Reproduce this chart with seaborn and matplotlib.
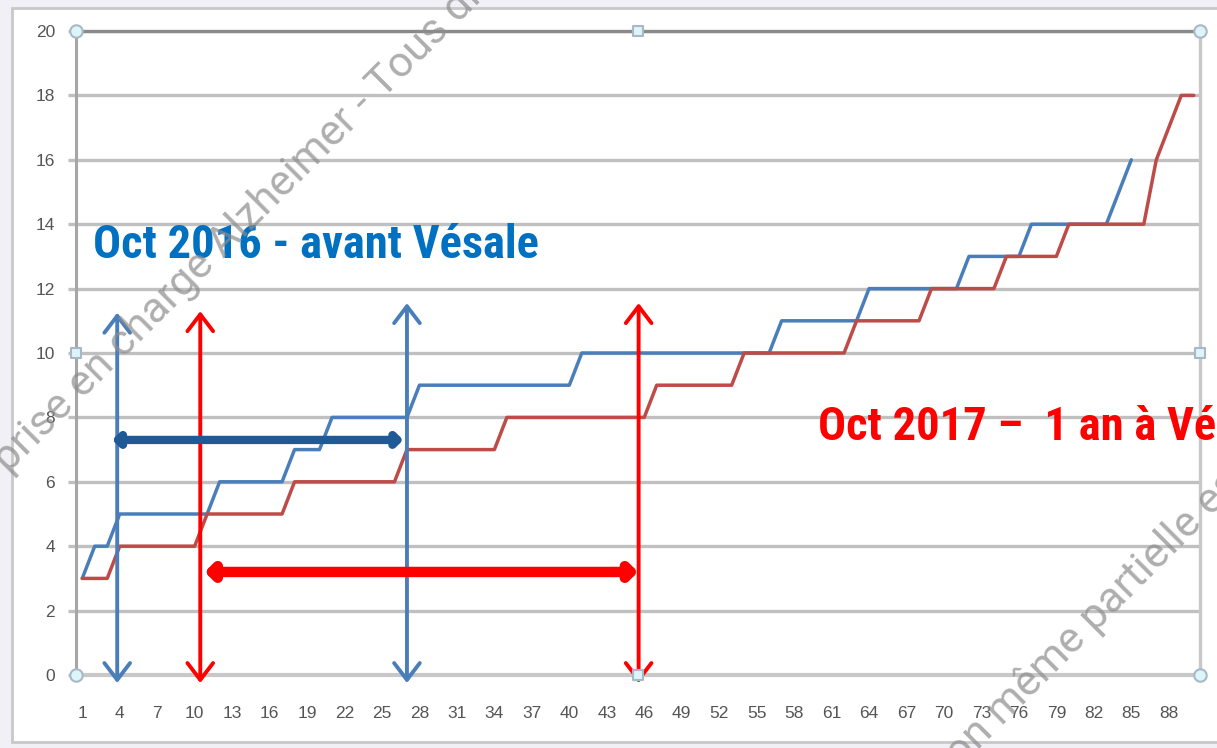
import matplotlib
matplotlib.use("Agg")
import matplotlib.pyplot as plt
from matplotlib.patches import FancyBboxPatch
import numpy as np
import pandas as pd
import seaborn as sns

# ---------------- data ----------------
blue_label = "Oct 2016"
red_label = "Oct 2017"
blue_values = [3, 4, 4, 5, 5, 5, 5, 5, 5, 5, 5, 6, 6, 6, 6, 6, 6, 7, 7, 7,
               8, 8, 8, 8, 8, 8, 8, 9, 9, 9, 9, 9, 9, 9, 9, 9, 9, 9, 9, 9,
               10, 10, 10, 10, 10, 10, 10, 10, 10, 10, 10, 10, 10, 10, 10, 10,
               11, 11, 11, 11, 11, 11, 11, 12, 12, 12, 12, 12, 12, 12, 12,
               13, 13, 13, 13, 13, 14, 14, 14, 14, 14, 14, 14, 15, 16]
red_values = [3, 3, 3, 4, 4, 4, 4, 4, 4, 4, 5, 5, 5, 5, 5, 5, 5,
              6, 6, 6, 6, 6, 6, 6, 6, 6, 7, 7, 7, 7, 7, 7, 7, 7,
              8, 8, 8, 8, 8, 8, 8, 8, 8, 8, 8, 8, 9, 9, 9, 9, 9, 9, 9,
              10, 10, 10, 10, 10, 10, 10, 10, 10, 11, 11, 11, 11, 11, 11,
              12, 12, 12, 12, 12, 12, 13, 13, 13, 13, 13,
              14, 14, 14, 14, 14, 14, 14, 16, 17, 18, 18]
x_tick_positions = [1, 4, 7, 10, 13, 16, 19, 22, 25, 28, 31, 34, 37, 40, 43, 46,
                    49, 52, 55, 58, 61, 64, 67, 70, 73, 76, 79, 82, 85, 88]
x_tick_labels = ["1", "4", "7", "10", "13", "16", "19", "22", "25", "28", "31",
                 "34", "37", "40", "43", "46", "49", "52", "55", "58", "61", "64",
                 "67", "70", "73", "76", "79", "82", "85", "88"]
y_ticks = [0, 2, 4, 6, 8, 10, 12, 14, 16, 18, 20]

df = pd.concat([
    pd.DataFrame({"cat": range(1, len(blue_values) + 1), "value": blue_values, "series": blue_label}),
    pd.DataFrame({"cat": range(1, len(red_values) + 1), "value": red_values, "series": red_label}),
])

sns.set_theme(style="white")
plt.rcParams["font.family"] = ["Liberation Sans", "DejaVu Sans"]

W, H = 1217, 748
fig = plt.figure(figsize=(W / 100, H / 100), dpi=100, facecolor="#F0F0F6")
fig.patches.append(FancyBboxPatch((12 / W, 6 / H), 1.2, 1 - 14 / H, transform=fig.transFigure,
                                  boxstyle="square,pad=0", fc="white", ec="#C8C8C8", lw=2, zorder=-5))

ax = fig.add_axes([76 / W, 1 - 675 / H, 1124 / W, 644 / H])
ax.set_facecolor("white")

sns.lineplot(data=df, x="cat", y="value", hue="series",
             palette={blue_label: "#4A7EBB", red_label: "#BE4B48"},
             linewidth=2.5, legend=False, ax=ax, zorder=3)

ax.set_xlim(0.5, 90.5)
ax.set_ylim(0, 20)
ax.set_xlabel("")
ax.set_ylabel("")
ax.set_yticks(y_ticks)
ax.set_yticklabels([str(v) for v in y_ticks])
ax.set_xticks(x_tick_positions)
ax.set_xticklabels(x_tick_labels)
ax.set_xticks(np.arange(0.5, 91, 1), minor=True)
ax.yaxis.grid(True, color="#C0C0C0", lw=2.4, zorder=1)
ax.set_axisbelow(True)
ax.tick_params(axis="x", which="major", length=0, pad=22, labelsize=12.5, labelcolor="#555555")
ax.tick_params(axis="x", which="minor", length=6, width=1.8, color="#C4C4C4", direction="out")
ax.tick_params(axis="y", which="major", length=6, width=2.4, color="#C0C0C0", pad=9,
               labelsize=12.5, labelcolor="#555555", left=True)
for s, c, w in [("left", "#A6A6A6", 2.2), ("bottom", "#C8C8C8", 3), ("top", "#8A8A8A", 2.4), ("right", "#C8C8C8", 2.4)]:
    ax.spines[s].set_visible(True)
    ax.spines[s].set_color(c)
    ax.spines[s].set_linewidth(w)

# arrows
v_arrows = [(3.8, 11.25, "#4A7EBB"), (10.45, 11.3, "#FF0000"), (27.0, 11.55, "#4A7EBB"), (45.55, 11.55, "#FF0000")]
for x, top, col in v_arrows:
    ax.annotate("", xy=(x, top), xytext=(x, -0.25), annotation_clip=False,
                arrowprops=dict(arrowstyle="<->,head_length=0.55,head_width=0.42", color=col, lw=2.8,
                                shrinkA=0, shrinkB=0, mutation_scale=22), zorder=5)
ax.annotate("", xy=(26.7, 7.3), xytext=(3.4, 7.3),
            arrowprops=dict(arrowstyle="<|-|>,head_length=0.35,head_width=0.35", color="#1F5A96", lw=6,
                            shrinkA=0, shrinkB=0, mutation_scale=10), zorder=6)
ax.annotate("", xy=(45.5, 3.2), xytext=(10.8, 3.2),
            arrowprops=dict(arrowstyle="<|-|>,head_length=0.35,head_width=0.35", color="#FF0000", lw=7.5,
                            shrinkA=0, shrinkB=0, mutation_scale=12), zorder=6)

cond = "Roboto Condensed"
ax.text(1.86, 13.35, "Oct 2016 - avant Vésale", color="#0070C0", fontsize=33.5, fontweight="bold",
        family=[cond, "DejaVu Sans"], ha="left", va="center", zorder=7)
ax.text(59.9, 7.7, "Oct 2017 –  1 an à Vésale", color="#FF0000", fontsize=33.5, fontweight="bold",
        family=[cond, "DejaVu Sans"], ha="left", va="center", zorder=7, clip_on=False)

# selection handles
ax.scatter([0, 0, 1, 1], [0, 1, 0, 1], transform=ax.transAxes, s=80, marker="o",
           fc="#DDF5F9", ec="#A9B8C6", lw=1.5, clip_on=False, zorder=8)
ax.scatter([0.5, 0.5, 0, 1], [0, 1, 0.5, 0.5], transform=ax.transAxes, s=60, marker="s",
           fc="#DDF5F9", ec="#A9B8C6", lw=1.5, clip_on=False, zorder=8)

# watermark
fig.text(-32 / W, 1 - 515 / H, "de prise en charge Alzheimer - Tous droits réservés", rotation=45,
         rotation_mode="anchor", ha="left", va="baseline", fontsize=31, fontweight="normal",
         color="#8C8C8C", alpha=0.7, family=["Roboto", "DejaVu Sans"], zorder=20)
fig.text(814 / W, 1 - 915 / H, "Reproduction même partielle est interdite", rotation=45,
         rotation_mode="anchor", ha="left", va="baseline", fontsize=31, fontweight="normal",
         color="#8C8C8C", alpha=0.7, family=["Roboto", "DejaVu Sans"], zorder=20)

fig.savefig("out.png", dpi=100, facecolor=fig.get_facecolor())
